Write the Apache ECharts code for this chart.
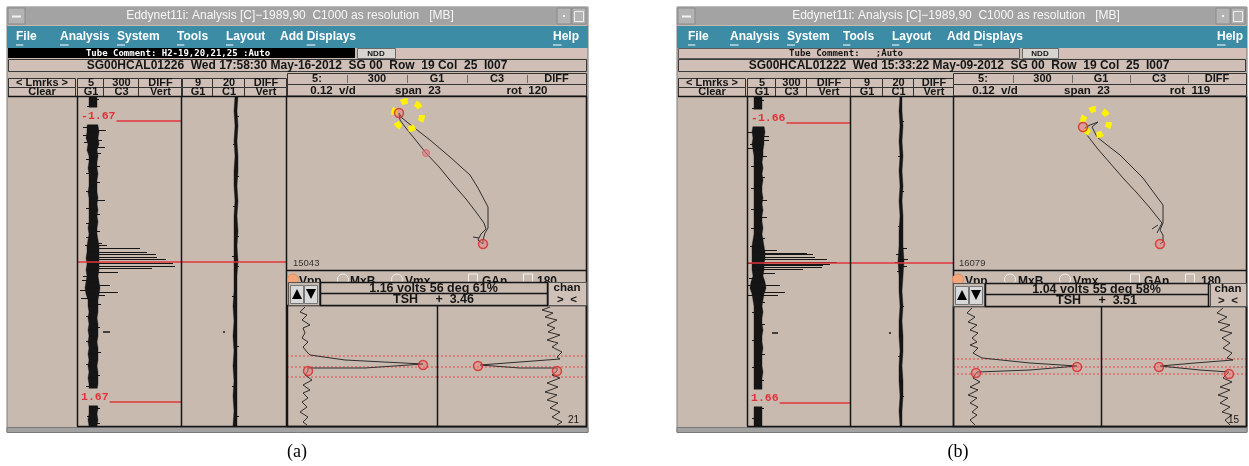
<!DOCTYPE html>
<html>
<head>
<meta charset="utf-8">
<title>Eddynet11i analysis screens</title>
<script src="https://cdn.jsdelivr.net/npm/echarts@6/dist/echarts.min.js"></script>
<style>
html,body{margin:0;padding:0;background:#fff;}
#chart{width:1249px;height:466px;}
</style>
</head>
<body>
<div id="chart"></div>
<script>
// ---------------------------------------------------------------
// Strip-chart traces: [sample, leftEdge, rightEdge] of the noise band
// (signal units, 0 = trace centre) and hairs [sample, excursion].
// ---------------------------------------------------------------
const stripA1Band = [
  [0,-4,4],[6,-4,4],[12,-4,4],[18,-4,4],[24,-4,4],[30,-6,5],[36,-6,6],[42,-7,5],[48,-5,6],[54,-6,4],
  [60,-4,5],[66,-4,4],[72,-5,4],[78,-4,5],[84,-4,4],[90,-4,4],[96,-5,4],[102,-4,5],[108,-4,4],[114,-4,5],
  [120,-4,4],[126,-4,5],[132,-5,4],[138,-4,4],[144,-5,5],[150,-6,6],[156,-6,6],[162,-7,6],[168,-6,6],[174,-7,6],
  [180,-6,5],[186,-7,6],[192,-8,7],[198,-7,6],[204,-5,5],[210,-5,5],[216,-4,5],[222,-5,4],[228,-4,5],[234,-5,5],
  [240,-4,5],[246,-5,4],[252,-4,5],[258,-5,5],[264,-4,5],[270,-5,4],[276,-4,5],[282,-5,5],[288,-4,5],[294,-4,4],
  [300,-4,4],[306,-4,4],[312,-4,5],[318,-4,4],[324,-5,5],[330,-4,4]
];
const stripA1Hairs = [
  [3,6],[10,-6],[31,-10],[34,13],[39,-10],[44,9],[46,-9],[51,12],[57,8],[63,-7],[70,7],[77,-7],[86,7],
  [95,-7],[104,12],[112,-7],[118,7],[127,-7],[135,7],[141,-7],[147,9],[149,14],[149,-8],[152,47],[156,54],
  [158,63],[161,64],[163,73],[167,80],[170,82],[172,59],[176,25],[180,-10],[184,-11],[189,17],[194,-13],
  [196,25],[199,12],[202,-12],[208,8],[220,-7],[231,7],[245,-7],[256,8],[268,-7],[279,7],[290,-7],[312,7],[320,-6],[327,7]
];
const stripA1Ticks = [[236,10,17]];

const stripA2Band = [
  [0,-1,2],[15,-2,1],[30,-1,2],[45,-2,1],[60,-1,2],[75,-2,2],[90,-2,1],[105,-1,2],[120,-2,1],[135,-2,2],
  [150,-2,1],[165,-2,2],[180,-2,1],[195,-2,1],[210,-3,1],[225,-2,1],[240,-3,1],[255,-2,1],[270,-3,1],
  [285,-2,1],[300,-3,1],[315,-2,1],[330,-3,1]
];
const stripA2Hairs = [[20,3],[48,-3],[80,3],[110,-3],[140,3],[160,-4],[170,3],[200,-4],[250,3],[290,-4],[320,3]];
const stripA2Ticks = [[236,-13,-11]];

const stripB1Band = [
  [0,-4,4],[6,-4,4],[12,-4,4],[18,-4,4],[24,-4,4],[30,-5,6],[36,-6,7],[42,-5,6],[48,-6,6],[54,-5,5],
  [60,-4,5],[66,-4,4],[72,-4,5],[78,-4,4],[84,-4,5],[90,-4,4],[96,-4,4],[102,-4,5],[108,-4,4],[114,-4,5],
  [120,-4,4],[126,-4,4],[132,-4,5],[138,-4,4],[144,-5,5],[150,-6,6],[156,-6,7],[162,-6,7],[168,-6,6],[174,-6,6],
  [180,-5,5],[186,-7,7],[192,-8,8],[198,-6,6],[204,-5,5],[210,-4,4],[216,-4,5],[222,-4,4],[228,-4,4],[234,-4,5],
  [240,-4,4],[246,-4,4],[252,-4,5],[258,-4,4],[264,-4,4],[270,-4,4],[276,-4,5],[282,-4,4],[288,-4,4],[294,-4,4],
  [300,-4,4],[306,-4,4],[312,-4,4],[318,-4,4],[324,-4,4],[330,-4,4]
];
const stripB1Hairs = [
  [4,6],[12,-6],[36,-11],[40,11],[44,11],[48,-8],[52,-11],[60,9],[70,-7],[81,7],[92,-7],[104,9],[113,-7],
  [121,9],[132,-7],[142,7],[150,-8],[154,19],[157,49],[158,55],[161,57],[163,69],[166,79],[167,-11],[168,72],
  [169,65],[171,64],[173,45],[177,17],[182,-9],[189,22],[189,-11],[196,27],[199,20],[199,-11],[206,7],[216,-6],
  [228,7],[244,-6],[258,7],[271,-6],[284,6],[298,-6],[312,6],[322,-6]
];
const stripB1Ticks = [[237,14,20]];

const stripB2Band = [
  [0,-1,1],[15,-2,1],[30,-1,2],[45,-2,1],[60,-1,2],[75,-2,1],[90,-1,2],[105,-2,1],[120,-1,2],[135,-2,2],
  [150,-2,2],[165,-3,3],[180,-2,2],[195,-2,1],[210,-1,2],[225,-2,1],[240,-2,2],[255,-1,2],[270,-2,1],
  [285,-2,2],[300,-1,2],[315,-2,1],[330,-1,1]
];
const stripB2Hairs = [[25,3],[60,-3],[95,3],[130,-3],[152,6],[158,-5],[163,7],[166,-6],[170,6],[175,-4],[210,3],[260,-3],[300,3]];
const stripB2Ticks = [[237,-12,-10]];

// landmarks on the first strip and the shared position marker
const landmarkSamplesA = [25, 306];
const landmarkLabelsA = ['-1.67', '1.67'];
const landmarkSamplesB = [27, 307];
const landmarkLabelsB = ['-1.66', '1.66'];
const markerSampleA = 166;
const markerSampleB = 167;

// ---------------------------------------------------------------
// Lissajous figures [X, Y] (null point at the origin)
// ---------------------------------------------------------------
const lissA = [[0,0],[-5,4],[-2,10],[3,15],[1,21],[-7,32],[-17,45],[-30,60],[-43,76],[-57,91],[-69,106],
  [-78,117],[-83,124],[-84,131],[-81,126],[-71,118],[-53,104],[-33,87],[-13,69],[-5,56],[5,37],[5,26],
  [5,16],[2,11],[0,4],[0,0]];
const lissATail = [[-10,7],[-4,6]];
const lissAEnds = [[-84,131],[0,0]];
const lissAMid = [[-57,91]];
const lissARing = [[-75,129,14]];

const lissB = [[0,0],[3,2],[3,9],[0,14],[3,21],[3,39],[-3,47],[-17,66],[-25,74],[-40,89],[-53,99],[-63,107],
  [-68,117],[-62,122],[-70,119],[-75,116],[-73,109],[-63,96],[-50,81],[-37,66],[-23,51],[-10,36],[2,21],[-3,11]];
const lissBTail = [[-8,15],[-2,19]];
const lissBEnds = [[-77,117],[0,0]];
const lissBMid = [];
const lissBRing = [[-64,122,13]];

// ---------------------------------------------------------------
// Horizontal / vertical channel traces [amplitude, sample]
// ---------------------------------------------------------------
const lowAX = [[0,1],[-5,6],[2,9],[-3,14],[5,19],[-2,22],[0,27],[-3,32],[3,36],[-2,41],[2,46],[5,49],[40,54],
  [118,58],[118,60],[60,62],[3,62],[3,65],[0,69],[7,74],[-2,79],[5,84],[-2,87],[3,92],[-3,96],[2,101],
  [-5,106],[3,111],[-2,116],[2,119]];
const lowAY = [[-1,1],[-9,4],[2,7],[-6,11],[6,14],[-4,19],[4,22],[-3,26],[9,29],[-4,34],[7,37],[1,41],[11,46],
  [6,51],[9,53],[-31,56],[-71,59],[-73,60],[-71,61],[-31,62],[6,62],[6,65],[1,69],[9,72],[-4,77],[7,81],
  [-6,86],[6,89],[-4,94],[7,97],[-1,102],[9,106],[1,111],[11,116],[6,119]];
const lowAXEnds = [[118,59],[3,65]];
const lowAYEnds = [[-73,60],[6,65]];
const lowAGates = [50, 61, 71];

const lowBX = [[-1,1],[-6,6],[2,10],[-5,15],[4,18],[-3,23],[5,26],[-1,31],[4,35],[-3,38],[5,41],[0,46],[9,51],
  [10,53],[57,56],[104,59],[104,61],[57,63],[4,65],[3,66],[0,71],[7,75],[-3,80],[5,83],[-5,88],[4,91],
  [-3,96],[5,100],[-1,105],[4,108],[-3,113],[2,118]];
const lowBY = [[-2,1],[-8,6],[2,10],[-7,15],[5,18],[-5,23],[7,26],[-3,31],[5,36],[-2,41],[7,46],[2,51],[8,53],
  [-30,56],[-65,59],[-66,60],[-65,61],[-25,63],[4,65],[4,67],[-2,71],[7,75],[-5,80],[5,83],[-7,88],[3,91],
  [-5,96],[5,100],[-3,105],[7,108],[0,113],[5,118]];
const lowBXEnds = [[104,60],[3,66]];
const lowBYEnds = [[-66,60],[4,67]];
const lowBGates = [52, 60, 67];

// ---------------------------------------------------------------
// Screen text
// ---------------------------------------------------------------
const titleText = 'Eddynet11i: Analysis [C]\u22121989,90  C1000 as resolution   [MB]';
const menuItems = ['File', 'Analysis', 'System', 'Tools', 'Layout', 'Add Displays'];
const stripHead1 = ['5', '300', 'DIFF'], stripHead1b = ['G1', 'C3', 'Vert'];
const stripHead2 = ['9', '20', 'DIFF'], stripHead2b = ['G1', 'C1', 'Vert'];
const lissHead = ['5:', '300', 'G1', 'C3', 'DIFF'];
const radioLabels = ['Vpp', 'MxB', 'Vmx'];
const checkLabels = ['GAn', '180'];

// ---------------------------------------------------------------
const TAN = '#c9bab0';
const CELL = '#cfbfb6';
const TEAL = '#3c8ca6';
const INK = '#151515';
const RED = '#e0343a';
const FONT = '"Liberation Sans", Arial, sans-serif';

const winA = {
  x0: 7, x1: 588, titleCx: 290,
  menuX: [16, 60, 117, 177, 226, 280], menuU: [0, 0, 0, 0, 0, 4], help: 553,
  tubeDark: true, tubeEnd: 355, tubeText: 'Tube Comment: H2-19,20,21,25 :Auto', tubeCx: 178, ndd: [357, 395],
  sgText: 'SG00HCAL01226  Wed 17:58:30 May-16-2012  SG 00  Row  19 Col  25  I007', sgCx: 297,
  lm: 75, s1: [77, 181], s2: [182, 286], li: [287, 586],
  col1: [77, 103, 138, 181], col2: [182, 212, 244, 286],
  rcols: [287, 347, 407, 467, 527, 586],
  r2: [['0.12  v/d', 333], ['span  23', 418], ['rot  120', 527]],
  marker: '15043',
  radioX: [[293, 299], [343, 350], [397, 405]], checkX: [[468, 482], [523, 537]],
  btn: 288, info: [320, 547], chan: [548, 586], infoTop: 282, lowTop: 305, lowDiv: 437,
  info1: '1.16 volts 56 deg 61%', info2: 'TSH     +  3.46', corner: '21',
  caption: '(a)', capX: 297
};
const winB = {
  x0: 677, x1: 1247, titleCx: 956,
  menuX: [688, 730, 787, 843, 892, 947], menuU: [0, 0, 0, 0, 0, 4], help: 1217,
  tubeDark: false, tubeEnd: 1020, tubeText: 'Tube Comment:   ;Auto', tubeCx: 846, ndd: [1022, 1058],
  sgText: 'SG00HCAL01222  Wed 15:33:22 May-09-2012  SG 00  Row  19 Col  25  I007', sgCx: 959,
  lm: 745, s1: [747, 850], s2: [850, 953], li: [953, 1246],
  col1: [747, 775, 806, 850], col2: [850, 882, 913, 953],
  rcols: [953, 1013, 1072, 1130, 1188, 1246],
  r2: [['0.12  v/d', 995], ['span  23', 1087], ['rot  119', 1190]],
  marker: '16079',
  radioX: [[958, 965], [1010, 1018], [1065, 1073]], checkX: [[1130, 1144], [1185, 1201]],
  btn: 953, info: [985, 1208], chan: [1210, 1246], infoTop: 283, lowTop: 306, lowDiv: 1101,
  info1: '1.04 volts 55 deg 58%', info2: 'TSH     +  3.51', corner: '15',
  caption: '(b)', capX: 958
};

// ---- graphic helpers ----
const mctx = document.createElement('canvas').getContext('2d');
function textW(t, font) { mctx.font = font; return mctx.measureText(t).width; }
const R = (x, y, w, h, fill, stroke, lw, z) => ({ type: 'rect', silent: true, z: z || 0,
  shape: { x, y, width: w, height: h }, style: { fill: fill || 'none', stroke: stroke || 'none', lineWidth: lw || 1 } });
const Ln = (x1, y1, x2, y2, stroke, lw, z) => ({ type: 'line', silent: true, z: z || 0,
  shape: { x1, y1, x2, y2 }, style: { stroke, lineWidth: lw || 1 } });
const T = (text, x, y, font, fill, align, z) => ({ type: 'text', silent: true, z: z || 0, x, y,
  style: { text, font, fill, align: align || 'left', verticalAlign: 'middle', textAlign: align || 'left', textVerticalAlign: 'middle' } });
const C = (cx, cy, r, fill, stroke, z) => ({ type: 'circle', silent: true, z: z || 0,
  shape: { cx, cy, r }, style: { fill, stroke, lineWidth: 1 } });
const P = (points, fill, z) => ({ type: 'polygon', silent: true, z: z || 0, shape: { points }, style: { fill } });

function chrome(L) {
  const e = [];
  const x0 = L.x0, x1 = L.x1, w = x1 - x0;
  const UI = 'bold 11px ' + FONT;
  // window body and title bar
  e.push(R(x0, 7, w, 425, TAN, '#7c7c7c', 1, 0));
  e.push(R(x0, 7, w, 18, '#a3a3a3', null, 1, 1));
  e.push(R(x0 + 1, 8, 17, 16, '#b3b3b3', '#8a8a8a', 1, 2));
  e.push(Ln(x0 + 5, 16.5, x0 + 14, 16.5, '#f2f2f2', 2, 3));
  e.push(R(x1 - 31, 8, 14, 16, '#b3b3b3', '#8a8a8a', 1, 2));
  e.push(R(x1 - 25, 15, 2, 2, '#eeeeee', null, 1, 3));
  e.push(R(x1 - 16, 8, 14, 16, '#b3b3b3', '#8a8a8a', 1, 2));
  e.push(R(x1 - 13.5, 11.5, 9, 10, 'none', '#eeeeee', 1, 3));
  e.push(T(titleText, L.titleCx, 16, '12px ' + FONT, '#f7f7f7', 'center', 3));
  // menu bar
  e.push(R(x0, 26, w, 22, TEAL, null, 1, 1));
  const MF = 'bold 12px ' + FONT;
  menuItems.forEach((t, i) => {
    const x = L.menuX[i];
    e.push(T(t, x, 37, MF, '#ffffff', 'left', 3));
    const u = L.menuU[i];
    const a = x + textW(t.slice(0, u), MF), b = x + textW(t.slice(0, u + 1), MF);
    e.push(Ln(a, 45, b, 45, '#ffffff', 1, 3));
  });
  e.push(T('Help', L.help, 37, MF, '#ffffff', 'left', 3));
  e.push(Ln(L.help, 45, L.help + textW('H', MF), 45, '#ffffff', 1, 3));
  // tube comment row
  const TF = 'bold 9px "DejaVu Sans Mono", monospace';
  if (L.tubeDark) {
    e.push(R(x0 + 1, 48, L.tubeEnd - x0 - 1, 10, '#000000', null, 1, 1));
    e.push(T(L.tubeText, L.tubeCx, 53.5, TF, '#ffffff', 'center', 3));
  } else {
    e.push(R(x0 + 1.5, 48.5, L.tubeEnd - x0 - 2, 10, '#d3c1b9', '#5a5a5a', 1, 1));
    e.push(T(L.tubeText, L.tubeCx, 53.5, TF, INK, 'center', 3));
  }
  e.push(R(L.ndd[1] + 1, 48, x1 - L.ndd[1] - 2, 10, '#d4c0b9', null, 1, 1));
  e.push(R(L.ndd[0] + 0.5, 48.5, L.ndd[1] - L.ndd[0], 10, '#d8d5d1', '#6a6a6a', 1, 2));
  e.push(T('NDD', (L.ndd[0] + L.ndd[1]) / 2, 53.8, 'bold 8px ' + FONT, INK, 'center', 3));
  // identification row
  e.push(R(x0 + 1.5, 59.5, w - 3, 12, CELL, '#3a3a3a', 1, 1));
  e.push(T(L.sgText, L.sgCx, 66, 'bold 12px ' + FONT, INK, 'center', 3));
  // strip headers
  e.push(R(x0 + 1.5, 78.5, L.lm - x0 - 1, 9, CELL, '#333', 1, 1));
  e.push(T('< Lmrks >', (x0 + L.lm) / 2 + 1, 83.2, UI, INK, 'center', 3));
  e.push(R(x0 + 1.5, 87.5, L.lm - x0 - 1, 9, CELL, '#333', 1, 1));
  e.push(T('Clear', (x0 + L.lm) / 2 + 1, 92.2, UI, INK, 'center', 3));
  [[L.col1, stripHead1, stripHead1b], [L.col2, stripHead2, stripHead2b]].forEach(([c, h, g]) => {
    for (let j = 0; j < 3; j++) {
      e.push(R(c[j] + 0.5, 78.5, c[j + 1] - c[j], 9, CELL, '#333', 1, 1));
      e.push(T(h[j], (c[j] + c[j + 1]) / 2 + 1, 83.2, UI, INK, 'center', 3));
      e.push(R(c[j] + 0.5, 87.5, c[j + 1] - c[j], 9, CELL, '#333', 1, 1));
      e.push(T(g[j], (c[j] + c[j + 1]) / 2 + 1, 92.2, UI, INK, 'center', 3));
    }
  });
  const rc = L.rcols;
  e.push(R(rc[0] + 0.5, 73.5, rc[5] - rc[0], 11, CELL, '#333', 1, 1));
  for (let j = 0; j < 5; j++) {
    if (j > 0) e.push(Ln(rc[j] + 0.5, 75, rc[j] + 0.5, 83, '#6d6d6d', 1, 2));
    e.push(T(lissHead[j], (rc[j] + rc[j + 1]) / 2, 79.2, UI, INK, 'center', 3));
  }
  e.push(R(rc[0] + 0.5, 84.5, rc[5] - rc[0], 11.5, CELL, '#333', 1, 1));
  L.r2.forEach(([t, x]) => e.push(T(t, x, 90.5, 'bold 11.5px ' + FONT, INK, 'center', 3)));

  // plot frames (drawn above the traces)
  const F = 20, top = 96.5, bot = 426.5;
  e.push(Ln(x0 + 1, top, x1 - 1, top, INK, 1.5, F));
  e.push(Ln(L.s1[0] + 0.5, top, L.s1[0] + 0.5, bot, INK, 1.5, F));
  e.push(Ln(L.s1[1] + 0.5, top, L.s1[1] + 0.5, bot, INK, 1.5, F));
  e.push(Ln(L.s2[1] + 0.5, top, L.s2[1] + 0.5, bot, INK, 1.5, F));
  e.push(Ln(L.li[1] + 0.5, top, L.li[1] + 0.5, bot, INK, 1.5, F));
  e.push(Ln(L.s1[0], bot, x1 - 1, bot, INK, 1.5, F));
  e.push(Ln(L.li[0], 270.5, L.li[1] + 1, 270.5, INK, 1.5, F));
  e.push(T(L.marker, L.li[0] + 6, 263, '9.5px ' + FONT, '#333', 'left', F));

  // display-mode row (partly hidden under the measurement box)
  const ry = 281.5;
  L.radioX.forEach(([cx, tx], i) => {
    const on = i === 0;
    e.push(C(cx, ry - 2, 5.5, on ? '#f2a67a' : 'none', on ? '#e08f5c' : '#efefef', F));
    e.push(T(radioLabels[i], tx, ry, 'bold 12px ' + FONT, INK, 'left', F));
  });
  L.checkX.forEach(([bx, tx], i) => {
    e.push(R(bx + 0.5, ry - 7.5, 9, 10, 'none', '#f1f1f1', 1, F));
    e.push(T(checkLabels[i], tx, ry, 'bold 12px ' + FONT, INK, 'left', F));
  });

  // measurement box, arrows and channel switch
  const it = L.infoTop, ih = L.lowTop - it;
  e.push(R(L.btn + 0.5, it + 0.5, L.info[0] - L.btn - 1, ih, TAN, '#555', 1, F + 1));
  e.push(R(L.btn + 2.5, it + 3.5, 13, ih - 5, '#d9d9d9', '#777', 1, F + 1));
  e.push(R(L.btn + 16.5, it + 3.5, 13, ih - 5, '#d9d9d9', '#777', 1, F + 1));
  e.push(P([[L.btn + 9, it + 7], [L.btn + 4, it + 17], [L.btn + 14, it + 17]], '#000', F + 2));
  e.push(P([[L.btn + 18, it + 7], [L.btn + 28, it + 7], [L.btn + 23, it + 17]], '#000', F + 2));
  e.push(R(L.info[0] + 0.5, it + 0.5, L.info[1] - L.info[0], ih, TAN, INK, 1.5, F + 1));
  e.push(Ln(L.info[0], it + 11.5, L.info[1], it + 11.5, INK, 1.5, F + 1));
  const cx = (L.info[0] + L.info[1]) / 2;
  e.push(T(L.info1, cx, it + 6.2, 'bold 12.5px ' + FONT, INK, 'center', F + 2));
  e.push(T(L.info2, cx, it + 17.6, 'bold 12.5px ' + FONT, INK, 'center', F + 2));
  e.push(R(L.chan[0] + 0.5, it + 0.5, L.chan[1] - L.chan[0], ih, '#d0c1b8', '#555', 1, F + 1));
  e.push(T('chan', (L.chan[0] + L.chan[1]) / 2, it + 6, 'bold 11.5px ' + FONT, INK, 'center', F + 2));
  e.push(T('>  <', (L.chan[0] + L.chan[1]) / 2, it + 18, 'bold 11.5px ' + FONT, INK, 'center', F + 2));

  // lower trace panels
  e.push(R(L.li[0] + 0.5, L.lowTop + 0.5, L.li[1] - L.li[0], bot - L.lowTop - 0.5, 'none', INK, 1.5, F));
  e.push(Ln(L.lowDiv + 0.5, L.lowTop, L.lowDiv + 0.5, bot, INK, 1.5, F));
  e.push(T(L.corner, L.li[1] - 7, 420, '10px ' + FONT, INK, 'right', F));

  // bottom scroll strip and caption
  e.push(R(x0, 427.5, w, 5, '#a2a2a2', '#7a7a7a', 1, 1));
  e.push(T(L.caption, L.capX, 452, '18px "Liberation Serif", "Times New Roman", serif', '#000', 'center', 3));
  return e;
}

// ---- coordinate systems: 0-4 screen (a), 5-9 screen (b) ----
const gridBoxes = [
  [77, 96, 104, 330], [182, 96, 104, 330], [287, 97, 299, 173], [287, 306, 150, 120], [437, 306, 149, 120],
  [747, 96, 103, 330], [850, 96, 103, 330], [953, 97, 293, 173], [953, 307, 148, 119], [1101, 307, 146, 119]
];
const xRange = [[-16, 88], [-54, 50], [-196, 103], [-18, 132], [-114, 35], [-11, 92], [-51, 52], [-207, 86], [-20, 128], [-124, 22]];
const yRange = [[0, 330], [0, 330], [-26, 147], [0, 120], [0, 120], [0, 330], [0, 330], [-26, 147], [0, 119], [0, 119]];
const yInverse = [true, true, false, true, true, true, true, false, true, true];

// ---- series builders ----
const crisp = v => Math.round(v) + 0.5;
function bandSeries(g, band) {
  return {
    type: 'custom', xAxisIndex: g, yAxisIndex: g, clip: true, silent: true, z: 3, animation: false,
    data: band.map(r => [r[1], r[0], r[2]]),
    renderItem(params, api) {
      const i = params.dataIndex;
      if (i >= band.length - 1) return;
      const a = band[i], b = band[i + 1];
      return { type: 'polygon',
        shape: { points: [api.coord([a[1], a[0]]), api.coord([a[2], a[0]]), api.coord([b[2], b[0]]), api.coord([b[1], b[0]])] },
        style: { fill: INK, stroke: INK, lineWidth: 0.4 } };
    }
  };
}
function hairSeries(g, hairs) {
  return {
    type: 'custom', xAxisIndex: g, yAxisIndex: g, clip: true, silent: true, z: 3, animation: false,
    data: hairs.map(h => [h[1], h[0]]),
    renderItem(params, api) {
      const s = api.value(1), v = api.value(0);
      const p0 = api.coord([0, s]), p1 = api.coord([v, s]);
      const y = crisp(p0[1]);
      return { type: 'line', shape: { x1: p0[0], y1: y, x2: p1[0], y2: y }, style: { stroke: INK, lineWidth: 1 } };
    }
  };
}
function tickSeries(g, ticks) {
  return {
    type: 'custom', xAxisIndex: g, yAxisIndex: g, clip: true, silent: true, z: 3, animation: false,
    data: ticks.map(t => [t[1], t[0], t[2]]),
    renderItem(params, api) {
      const s = api.value(1);
      const p0 = api.coord([api.value(0), s]), p1 = api.coord([api.value(2), s]);
      return { type: 'line', shape: { x1: p0[0], y1: p0[1], x2: p1[0], y2: p1[1] }, style: { stroke: INK, lineWidth: 1.5 } };
    }
  };
}
function hLineSeries(g, samples, color, width, dash) {
  const xr = xRange[g];
  return {
    type: 'custom', xAxisIndex: g, yAxisIndex: g, clip: true, silent: true, z: 4, animation: false,
    data: samples.map(s => [xr[0], s]),
    renderItem(params, api) {
      const s = api.value(1);
      const p0 = api.coord([xr[0], s]), p1 = api.coord([xr[1], s]);
      return { type: 'line', shape: { x1: p0[0], y1: p0[1], x2: p1[0], y2: p1[1] }, style: { stroke: color, lineWidth: width, lineDash: dash || null } };
    }
  };
}
function landmarkSeries(g, samples, labels) {
  const xr = xRange[g];
  const LF = 'bold 11.5px "Liberation Mono", "DejaVu Sans Mono", monospace';
  return {
    type: 'custom', xAxisIndex: g, yAxisIndex: g, clip: true, silent: true, z: 5, animation: false,
    data: samples.map(s => [xr[0], s]),
    renderItem(params, api) {
      const s = api.value(1);
      const p = api.coord([xr[0], s]), pe = api.coord([xr[1], s]);
      const lbl = labels[params.dataIndex];
      const tw = textW(lbl, LF);
      return { type: 'group', children: [
        { type: 'text', style: { text: lbl, x: p[0] + 3, y: p[1] - 5, font: LF, fill: RED, verticalAlign: 'middle', align: 'left',
          backgroundColor: TAN, padding: [4, 1, 1, 1] } },
        { type: 'line', shape: { x1: p[0] + 5 + tw, y1: p[1], x2: pe[0], y2: p[1] }, style: { stroke: RED, lineWidth: 1.3 } }
      ] };
    }
  };
}
function ringSeries(g, rings) {
  return {
    type: 'custom', xAxisIndex: g, yAxisIndex: g, clip: true, silent: true, z: 6, animation: false,
    data: rings,
    renderItem(params, api) {
      const c = api.coord([api.value(0), api.value(1)]);
      const r = api.size([api.value(2), 0])[0];
      const seg = 2 * Math.PI * r / 6;
      return { type: 'circle', shape: { cx: c[0], cy: c[1], r },
        style: { fill: 'none', stroke: '#fff200', lineWidth: 6, lineDash: [seg * 0.45, seg * 0.55] } };
    }
  };
}
function traceSeries(g, data) {
  return { type: 'line', xAxisIndex: g, yAxisIndex: g, data, showSymbol: false, symbol: 'none', silent: true,
    animation: false, lineStyle: { color: '#2e2e2e', width: 1 }, z: 4 };
}
function endSeries(g, data, size) {
  return { type: 'scatter', xAxisIndex: g, yAxisIndex: g, data, symbolSize: size || 9, silent: true, animation: false, z: 7,
    itemStyle: { color: 'rgba(240,120,120,0.55)', borderColor: '#d42a2a', borderWidth: 1.5 } };
}

const series = [
  // screen (a)
  bandSeries(0, stripA1Band), hairSeries(0, stripA1Hairs), tickSeries(0, stripA1Ticks),
  hLineSeries(0, [markerSampleA], RED, 1.5), landmarkSeries(0, landmarkSamplesA, landmarkLabelsA),
  bandSeries(1, stripA2Band), hairSeries(1, stripA2Hairs), tickSeries(1, stripA2Ticks),
  hLineSeries(1, [markerSampleA], RED, 1.5),
  ringSeries(2, lissARing), traceSeries(2, lissA), traceSeries(2, lissATail), endSeries(2, lissAEnds),
  { type: 'scatter', xAxisIndex: 2, yAxisIndex: 2, data: lissAMid, symbolSize: 7, silent: true, animation: false, z: 7,
    itemStyle: { color: 'rgba(225,120,130,0.75)', borderColor: 'rgba(210,90,100,0.9)', borderWidth: 1 } },
  hLineSeries(3, lowAGates, '#e0484c', 1, [2, 2]), hLineSeries(4, lowAGates, '#e0484c', 1, [2, 2]),
  traceSeries(3, lowAX), endSeries(3, lowAXEnds), traceSeries(4, lowAY), endSeries(4, lowAYEnds),
  // screen (b)
  bandSeries(5, stripB1Band), hairSeries(5, stripB1Hairs), tickSeries(5, stripB1Ticks),
  hLineSeries(5, [markerSampleB], RED, 1.5), landmarkSeries(5, landmarkSamplesB, landmarkLabelsB),
  bandSeries(6, stripB2Band), hairSeries(6, stripB2Hairs), tickSeries(6, stripB2Ticks),
  hLineSeries(6, [markerSampleB], RED, 1.5),
  ringSeries(7, lissBRing), traceSeries(7, lissB), traceSeries(7, lissBTail), endSeries(7, lissBEnds),
  { type: 'scatter', xAxisIndex: 7, yAxisIndex: 7, data: lissBMid, symbolSize: 7, silent: true, animation: false, z: 7,
    itemStyle: { color: 'rgba(225,120,130,0.75)' } },
  hLineSeries(8, lowBGates, '#e0484c', 1, [2, 2]), hLineSeries(9, lowBGates, '#e0484c', 1, [2, 2]),
  traceSeries(8, lowBX), endSeries(8, lowBXEnds), traceSeries(9, lowBY), endSeries(9, lowBYEnds)
];

const chart = echarts.init(document.getElementById('chart'), null, { renderer: 'canvas' });
chart.setOption({
  animation: false,
  backgroundColor: '#ffffff',
  grid: gridBoxes.map(b => ({ left: b[0], top: b[1], width: b[2], height: b[3], show: false, containLabel: false })),
  xAxis: gridBoxes.map((b, i) => ({ gridIndex: i, type: 'value', min: xRange[i][0], max: xRange[i][1], show: false })),
  yAxis: gridBoxes.map((b, i) => ({ gridIndex: i, type: 'value', min: yRange[i][0], max: yRange[i][1], inverse: yInverse[i], show: false })),
  graphic: { elements: chrome(winA).concat(chrome(winB)) },
  series
});
</script>
</body>
</html>
